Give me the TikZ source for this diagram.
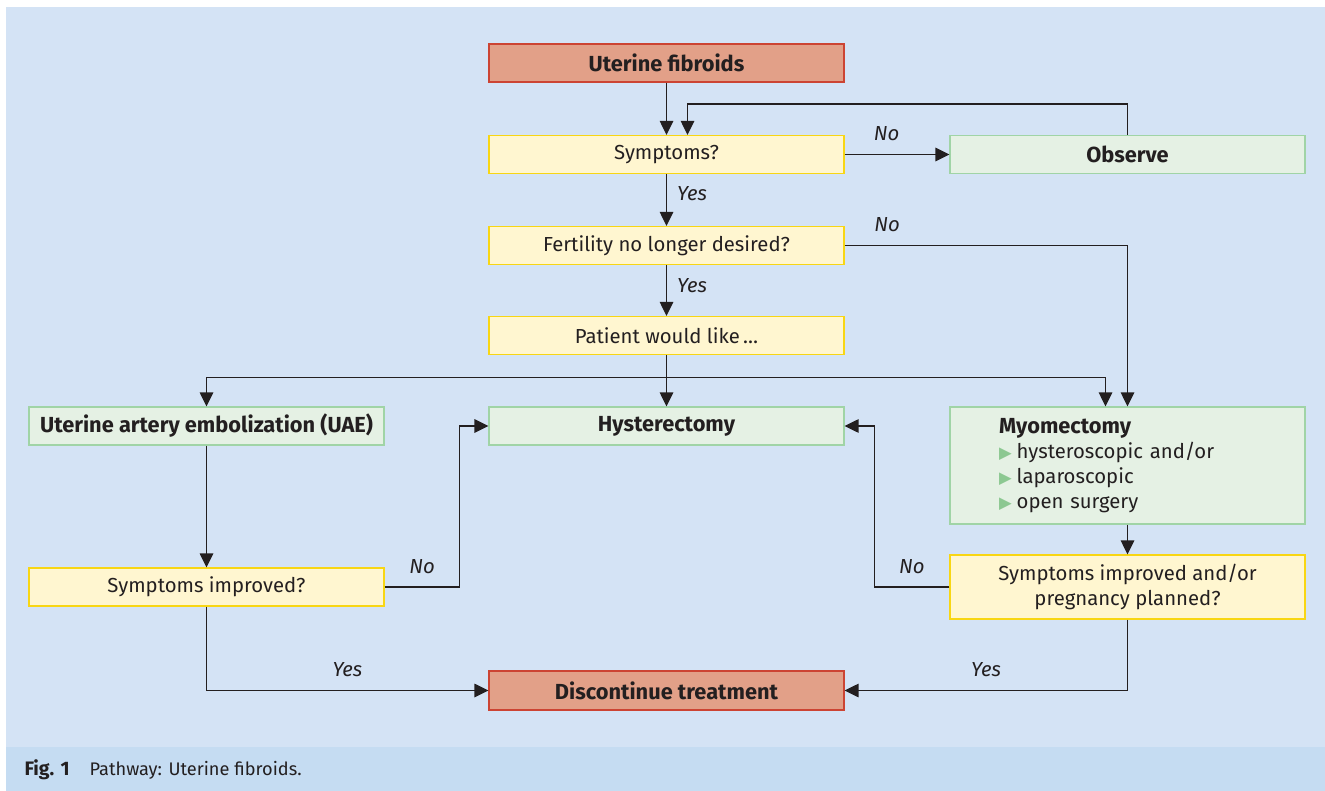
\documentclass[tikz,border=0pt]{standalone}
\usepackage{fontspec}
\setmainfont{Fira Sans}
\newfontfamily\symfont{DejaVu Sans}
\usetikzlibrary{arrows.meta, positioning, calc}
\definecolor{panelblue}{RGB}{212,227,245}
\definecolor{captionblue}{RGB}{197,220,242}
\definecolor{startred}{RGB}{204,68,51}
\definecolor{startfill}{RGB}{226,160,136}
\definecolor{askyellow}{RGB}{248,214,19}
\definecolor{askfill}{RGB}{255,246,208}
\definecolor{treatgreen}{RGB}{160,212,166}
\definecolor{treatfill}{RGB}{229,241,228}
\definecolor{inkdark}{RGB}{35,31,32}
\definecolor{bulletgreen}{RGB}{140,200,145}

\newcommand{\bul}{{\color{bulletgreen}\symfont\fontsize{16.5}{16.5}\selectfont ▶}\hspace{5pt}}

\begin{document}
\begin{tikzpicture}[
				x=1pt, y=-1pt,
				font=\fontsize{20.3}{25}\selectfont, text=inkdark,
				box/.style={rectangle, minimum width=355pt, minimum height=38pt, inner sep=0pt, text centered, line width=1.2pt},
				endpoint/.style={box, draw=startred, fill=startfill, font=\fontsize{21.8}{25}\selectfont\bfseries},
				question/.style={box, draw=askyellow, fill=askfill},
				therapy/.style={box, draw=treatgreen, fill=treatfill, font=\fontsize{21.8}{25}\selectfont\bfseries},
				arrow/.style={-{Triangle[length=14pt,width=13.5pt]}, line width=1.3pt, color=inkdark},
				line/.style={line width=1.3pt, color=inkdark},
				answer/.style={font=\fontsize{20.3}{25}\selectfont\itshape, inner sep=0pt}
			]

			% Frame and caption band
			\useasboundingbox (0,0) rectangle (1325,791);
			\fill[panelblue] (6,7) rectangle (1325,791);
			\fill[captionblue] (6,747) rectangle (1325,791);
			\node (figlabel) [anchor=west, font=\fontsize{19.5}{22}\selectfont\bfseries] at (21,770) {Fig. 1};
			\node (figtext) [anchor=west, font=\fontsize{18.2}{22}\selectfont] at (86,770) {Pathway: Uterine fibroids.};

			% Top: diagnosis and first questions
			\node (fibroids) [endpoint] at (666.5,63) {Uterine fibroids};
			\node (symptoms) [question] at (666.5,154.5) {Symptoms?};
			\node (observe) [therapy] at (1127.5,154.5) {Observe};
			\node (fertility) [question] at (666.5,245.5) {Fertility no longer desired?};
			\node (wish) [question] at (666.5,335.5) {Patient would like\,\dots};

			% Middle: treatment options
			\node (uae) [therapy] at (206.5,426) {Uterine artery embolization (UAE)};
			\node (hysterectomy) [therapy] at (666.5,426) {Hysterectomy};
			\node (myomectomy) [therapy, minimum height=117pt, text width=257pt, align=left, font=\fontsize{20.3}{25}\selectfont] at (1127.5,465.5)
				{{\fontsize{21.8}{25}\selectfont\bfseries Myomectomy}\\\bul hysteroscopic and/or\\\bul laparoscopic\\\bul open surgery};

			% Bottom: follow-up questions and end
			\node (uaecheck) [question] at (206.5,587) {Symptoms improved?};
			\node (myocheck) [question, minimum height=64pt, align=center] at (1127.5,587) {Symptoms improved and/or\\pregnancy planned?};
			\node (stop) [endpoint, minimum height=39pt] at (666.5,690.5) {Discontinue treatment};

			% Main flow arrows
			\draw [arrow] (fibroids) -- (symptoms);
			\draw [arrow] (symptoms) -- node[answer, above=13pt, pos=0.4] {No} (observe);
			\draw [arrow] (observe.north) -- ++(0,-31) -| ([xshift=21pt]symptoms.north);
			\draw [arrow] (symptoms) -- node[answer, right=10pt, pos=0.38] {Yes} (fertility);
			\draw [arrow] (fertility.east) -| node[answer, above=13pt, pos=0.075] {No} (myomectomy.north);
			\draw [arrow] (fertility) -- node[answer, right=10pt, pos=0.4] {Yes} (wish);

			% Split to the three options
			\draw [line] (wish.south) -- ++(0,22.5) coordinate (split);
			\draw [arrow] (split) -- (hysterectomy);
			\draw [arrow] (split) -| (uae.north);
			\draw [arrow] (split) -| ([xshift=-22pt]myomectomy.north);

			% Follow-up arrows
			\draw [arrow] (uae) -- (uaecheck);
			\draw [arrow] (uaecheck.east) -- node[answer, above=13pt] {No} ++(75,0) |- (hysterectomy.west);
			\draw [arrow] (uaecheck.south) |- node[answer, above=13pt, pos=0.75] {Yes} (stop.west);
			\draw [arrow] (myomectomy) -- (myocheck);
			\draw [arrow] (myocheck.west) -- node[answer, above=13pt] {No} ++(-75,0) |- (hysterectomy.east);
			\draw [arrow] (myocheck.south) |- node[answer, above=13pt, pos=0.75] {Yes} (stop.east);

		\end{tikzpicture}
\end{document}
